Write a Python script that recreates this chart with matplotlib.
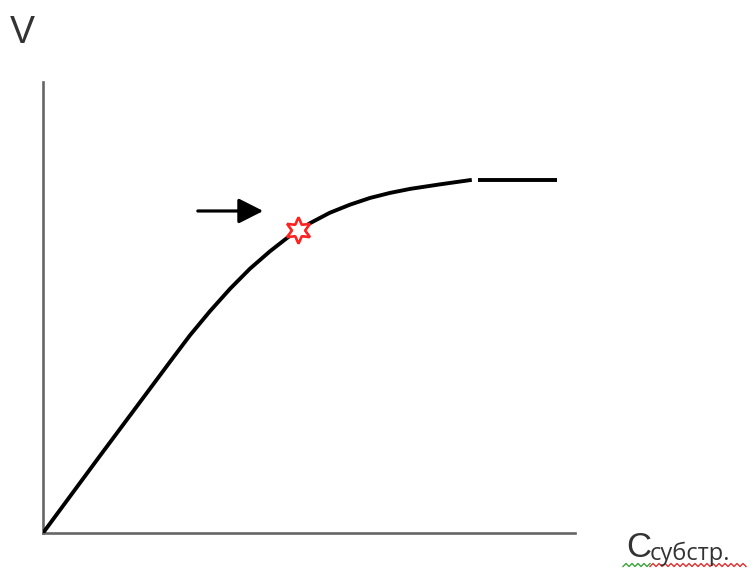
#!/usr/bin/env python3
"""
Michaelis-Menten style saturation curve: reaction rate V vs substrate
concentration, with the half-saturation point marked.
"""

import numpy as np
import matplotlib.pyplot as plt
from matplotlib.lines import Line2D

# ---------------------------------------------------------------------------
# Curve data (arbitrary units, axes run 0..10)
# ---------------------------------------------------------------------------

conc = [0.0, 1.07, 2.39, 2.76, 3.14, 3.52, 3.89, 4.27, 4.64, 5.02,
        5.39, 5.77, 6.15, 6.52, 6.90, 7.46, 8.06]
rate = [0.0, 1.71, 3.80, 4.38, 4.92, 5.42, 5.86, 6.25, 6.59, 6.87,
        7.10, 7.28, 7.43, 7.54, 7.63, 7.73, 7.83]

# flat tail after saturation
plateau_x = [8.18, 9.66]
plateau_y = [7.83, 7.83]

# marked point on the curve and the arrow pointing at it
mark = (4.79, 6.72)
arrow_from = (2.91, 7.14)
arrow_to = (4.14, 7.14)

W, H = 752, 577

fig = plt.figure(figsize=(W / 100, H / 100), dpi=100)
fig.patch.set_facecolor('white')

# axes box placed by pixel edges: x axis 43..575, y axis 533..82
ax = fig.add_axes([43 / W, (H - 533) / H, 532 / W, 451 / H])
ax.set_xlim(0, 10)
ax.set_ylim(0, 10)
ax.set_xticks([])
ax.set_yticks([])
for side in ('top', 'right'):
    ax.spines[side].set_visible(False)
for side in ('left', 'bottom'):
    ax.spines[side].set_color('#666666')
    ax.spines[side].set_linewidth(1.9)
ax.patch.set_alpha(0)

ax.plot(conc, rate, color='black', lw=2.8, solid_capstyle='butt',
        solid_joinstyle='round', zorder=3)
ax.plot(plateau_x, plateau_y, color='black', lw=2.8, solid_capstyle='butt', zorder=3)

ax.plot(*mark, marker=(6, 1, 0), ms=19, mfc='white', mec='#ff2020',
        mew=1.9, zorder=4)

ax.annotate('', xy=arrow_to, xytext=arrow_from,
            arrowprops=dict(arrowstyle='-|>,head_length=0.75,head_width=0.38',
                            mutation_scale=20, lw=2.3, color='black',
                            shrinkA=0, shrinkB=0))

# axis labels
fig.text(22 / W, 1 - 33 / H, 'V', fontsize=27, color='#333333',
         family='Liberation Sans', ha='center', va='center')
fig.text(626 / W, 1 - 557 / H, 'C', fontsize=25, color='#333333',
         family='Liberation Sans', ha='left', va='baseline')
fig.text(650 / W, 1 - 560 / H, 'субстр.', fontsize=17, color='#333333',
         family='Open Sans', ha='left', va='baseline')

# wavy spell-check underline beneath the label
def squiggle(x0, x1, y, color):
    xs = np.arange(x0, x1 + 0.1, 3)
    ys = y + np.where(np.arange(len(xs)) % 2 == 0, 1.5, -1.5)
    fig.add_artist(Line2D(xs / W, 1 - ys / H, transform=fig.transFigure,
                          color=color, lw=1.0))

squiggle(623, 650, 565, '#3aa33a')
squiggle(650, 748, 565, '#e03030')

fig.savefig('out.png', dpi=100)
